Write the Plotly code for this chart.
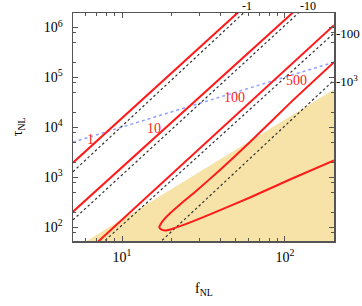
import numpy as np
import plotly.graph_objects as go

# ---------------- data ----------------
# solid red contours (labels 1, 10, 100, 500)
f_red1 = [5.0, 51.5]
tau_red1 = [1960, 2.0e6]
f_red10 = [5.0, 112]
tau_red10 = [205, 2.0e6]
f_red100 = [6.5, 200]
tau_red100 = [39, 1.11e6]
f_red500 = [200, 107.3, 61.0, 39.9, 28.05, 22.7, 19.7, 18.1, 17.35, 16.93,
            17.35, 18.36, 20.26, 24.35, 34.67, 61.0, 107.3, 200]
tau_red500 = [2.02e5, 3.06e4, 5080, 1400, 508, 286, 190.5, 143, 119, 100,
              90.4, 86.3, 92.5, 113.8, 180.3, 394.5, 903.6, 2168]

# dashed black lines (labels -1, -10, -100, -10^3)
f_dash1 = [5.0, 56.1]
tau_dash1 = [1294, 2.0e6]
f_dash10 = [5.0, 122]
tau_dash10 = [140, 2.0e6]
f_dash100 = [7.1, 200]
tau_dash100 = [40, 7.7e5]
f_dash1000 = [15.9, 200]
tau_dash1000 = [40, 8.83e4]

# blue dotted line
f_blue = [5.0, 200]
tau_blue = [5080, 2.02e5]

# excluded (shaded) region boundary: tau_NL = (6/5 f_NL)^2
f_excl = [5.0, 200]
tau_excl = [36, 57600]

# red labels placed along the blue line
red_labels = ["1", "10", "100", "500"]
red_label_f = [6.37, 15.6, 49.3, 118]
red_label_tau = [5830, 9550, 3.98e4, 8.83e4]

# dashed-line labels
top_labels = ["-1", "-10"]
top_label_f = [58.2, 139]
right_labels = ["-100", "-10<sup>3</sup>"]
right_label_tau = [7.6e5, 8.6e4]

# axis ticks
x_major = [10, 100]
x_major_text = ["10<sup>1</sup>", "10<sup>2</sup>"]
x_minor_digits = [2, 3, 4, 5, 6, 7, 8, 9]
y_major = [1e2, 1e3, 1e4, 1e5, 1e6]
y_major_text = ["10<sup>2</sup>", "10<sup>3</sup>", "10<sup>4</sup>",
                "10<sup>5</sup>", "10<sup>6</sup>"]
y_minor_digits = [2, 5, 8]

x_range = [5, 200]
y_range = [53, 1.95e6]

# ---------------- styles ----------------
FONT = "Liberation Serif"
RED = "#ff1a1a"
AXIS = "#555555"
FILL = "#f7e3a7"
BLUE = "#8fa0ff"

x_minor = [d * 10 ** k for k in range(0, 3) for d in x_minor_digits]
y_minor = [d * 10 ** k for k in range(1, 7) for d in y_minor_digits]

fig = go.Figure()

# shaded excluded region
fig.add_trace(go.Scatter(
    x=f_excl + [f_excl[-1], f_excl[0]],
    y=tau_excl + [1, 1],
    mode="lines", fill="toself", fillcolor=FILL,
    line=dict(width=0), hoverinfo="skip", showlegend=False))

# blue dotted
fig.add_trace(go.Scatter(x=f_blue, y=tau_blue, mode="lines",
                         line=dict(color=BLUE, width=1.5, dash="dot"),
                         showlegend=False))

# dashed lines
for fx, ty in [(f_dash1, tau_dash1), (f_dash10, tau_dash10),
               (f_dash100, tau_dash100), (f_dash1000, tau_dash1000)]:
    fig.add_trace(go.Scatter(x=fx, y=ty, mode="lines",
                             line=dict(color="#333333", width=1.2, dash="2.5px,2.5px"),
                             showlegend=False))

# red lines
for fx, ty in [(f_red1, tau_red1), (f_red10, tau_red10), (f_red100, tau_red100)]:
    fig.add_trace(go.Scatter(x=fx, y=ty, mode="lines",
                             line=dict(color=RED, width=2), showlegend=False))
fig.add_trace(go.Scatter(x=f_red500, y=tau_red500, mode="lines",
                         line=dict(color=RED, width=2, shape="spline", smoothing=0.5),
                         showlegend=False))

annotations = []
for t, fx, ty in zip(red_labels, red_label_f, red_label_tau):
    annotations.append(dict(x=np.log10(fx), y=np.log10(ty), xref="x", yref="y",
                            text=t, showarrow=False,
                            font=dict(family=FONT, size=14, color=RED)))
for t, fx in zip(top_labels, top_label_f):
    annotations.append(dict(x=np.log10(fx), y=1, xref="x", yref="paper",
                            text=t, showarrow=False, yanchor="middle",
                            xanchor="center", borderpad=0, yshift=7,
                            font=dict(family=FONT, size=12, color="black")))
for t, ty in zip(right_labels, right_label_tau):
    annotations.append(dict(x=1, y=np.log10(ty), xref="paper", yref="y",
                            text=t, showarrow=False, xanchor="left",
                            yanchor="middle", borderpad=0, xshift=1,
                            font=dict(family=FONT, size=13, color="black")))
# axis titles
annotations.append(dict(x=0.5, y=-0.26, xref="paper", yref="paper",
                        text="f<sub>NL</sub>", showarrow=False,
                        font=dict(family=FONT, size=14, color="black")))
annotations.append(dict(x=-0.25, y=0.5, xref="paper", yref="paper",
                        text="τ<sub>NL</sub>", showarrow=False, textangle=-90,
                        font=dict(family=FONT, size=14, color="black")))

fig.update_xaxes(
    type="log", range=[np.log10(x_range[0]), np.log10(x_range[1])],
    tickmode="array", tickvals=x_major, ticktext=x_major_text,
    ticks="inside", ticklen=5, tickwidth=1, tickcolor=AXIS,
    minor=dict(tickmode="array", tickvals=x_minor, ticks="inside",
               ticklen=3, tickwidth=1, tickcolor=AXIS, showgrid=False),
    showline=True, linecolor=AXIS, linewidth=1.5, mirror="ticks",
    showgrid=False, zeroline=False, ticklabelstandoff=3, automargin=False,
    tickfont=dict(family=FONT, size=14, color="black"))
fig.update_yaxes(
    type="log", range=[np.log10(y_range[0]), np.log10(y_range[1])],
    tickmode="array", tickvals=y_major, ticktext=y_major_text,
    ticks="inside", ticklen=5, tickwidth=1, tickcolor=AXIS,
    minor=dict(tickmode="array", tickvals=y_minor, ticks="inside",
               ticklen=3, tickwidth=1, tickcolor=AXIS, showgrid=False),
    showline=True, linecolor=AXIS, linewidth=1.5, mirror="ticks",
    showgrid=False, zeroline=False, ticklabelstandoff=6, automargin=False,
    tickfont=dict(family=FONT, size=14, color="black"))

fig.update_layout(
    width=362, height=306,
    margin=dict(l=73, r=28, t=13, b=65, autoexpand=False),
    plot_bgcolor="white", paper_bgcolor="white",
    showlegend=False, hovermode=False, annotations=annotations)

fig.write_html("out.html",
               config={"displayModeBar": False, "staticPlot": True},
               post_script="document.body.style.margin='0px';"
                           "document.body.style.overflow='hidden';")
